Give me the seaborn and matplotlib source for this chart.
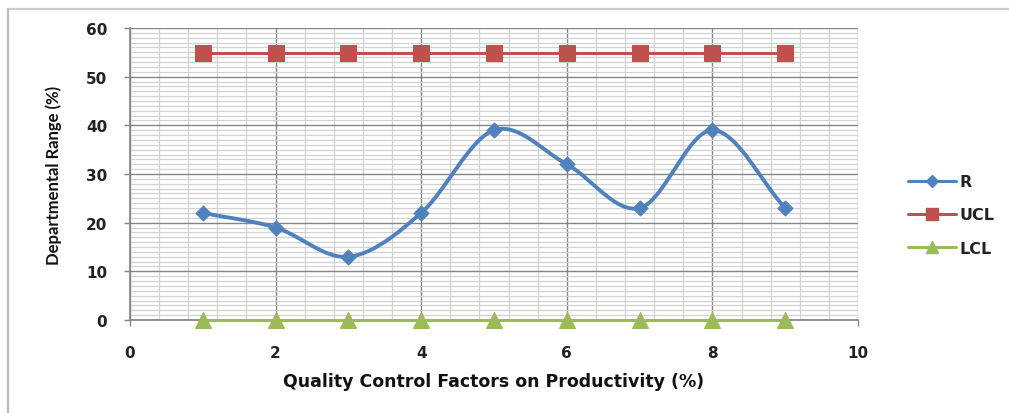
import numpy as np
import pandas as pd
import matplotlib
matplotlib.use("Agg")
import matplotlib.pyplot as plt
from matplotlib.lines import Line2D
from matplotlib.ticker import MultipleLocator
import seaborn as sns

# Data
factors = [1, 2, 3, 4, 5, 6, 7, 8, 9]
r_values = [22, 19, 13, 22, 39, 32, 23, 39, 23]
ucl_values = [54.8] * 9
lcl_values = [0] * 9

BLUE = "#4F81BD"
RED = "#C0504D"
GREEN = "#9BBB59"


def catmull_rom(x, y, n=40):
    """Smooth curve through the points (Catmull-Rom, as in spreadsheet smoothed lines)."""
    x = np.asarray(x, float)
    y = np.asarray(y, float)
    px = np.concatenate([[2 * x[0] - x[1]], x, [2 * x[-1] - x[-2]]])
    py = np.concatenate([[2 * y[0] - y[1]], y, [2 * y[-1] - y[-2]]])
    xs, ys = [], []
    t = np.linspace(0, 1, n, endpoint=False)
    for i in range(1, len(px) - 2):
        for arr, out in ((px, xs), (py, ys)):
            p0, p1, p2, p3 = arr[i - 1], arr[i], arr[i + 1], arr[i + 2]
            out.extend(0.5 * ((2 * p1) + (-p0 + p2) * t
                              + (2 * p0 - 5 * p1 + 4 * p2 - p3) * t ** 2
                              + (-p0 + 3 * p1 - 3 * p2 + p3) * t ** 3))
    xs.append(x[-1])
    ys.append(y[-1])
    return np.array(xs), np.array(ys)


sns.set_theme(style="white")
plt.rcParams["font.family"] = ["DejaVu Sans"]

fig = plt.figure(figsize=(10.09, 4.14), dpi=100)
ax = fig.add_axes([130 / 1009, 93 / 414, 728 / 1009, 292 / 414])

# Chart-area frame (top and left edges)
fx, fy = 7.5 / 1009, 1 - 9.5 / 414
fig.add_artist(Line2D([fx, 1.0], [fy, fy], transform=fig.transFigure,
                      color="#cccccc", linewidth=1.6))
fig.add_artist(Line2D([fx, fx], [0.0, fy], transform=fig.transFigure,
                      color="#bdbdbd", linewidth=1.6))

sx, sy = catmull_rom(factors, r_values)
smooth = pd.DataFrame({"x": sx, "y": sy})
sns.lineplot(data=smooth, x="x", y="y", ax=ax, color=BLUE, linewidth=2.8,
             sort=False, estimator=None, zorder=4)
sns.scatterplot(x=factors, y=r_values, ax=ax, marker="D", s=60, color=BLUE,
                edgecolor=BLUE, zorder=5)

sns.lineplot(x=factors, y=ucl_values, ax=ax, color=RED, linewidth=2.2,
             marker="s", markersize=11, markeredgecolor=RED, zorder=4)
sns.lineplot(x=factors, y=lcl_values, ax=ax, color=GREEN, linewidth=2.2,
             marker="^", markersize=12, markeredgecolor=GREEN, zorder=4)
for ln in ax.lines:
    ln.set_clip_on(False)

ax.set_xlim(0, 10)
ax.set_ylim(0, 60)
ax.xaxis.set_major_locator(MultipleLocator(2))
ax.xaxis.set_minor_locator(MultipleLocator(0.4))
ax.yaxis.set_major_locator(MultipleLocator(10))
ax.yaxis.set_minor_locator(MultipleLocator(1))
ax.grid(which="major", color="#858585", linewidth=1.0)
ax.grid(which="minor", color="#d2d2d2", linewidth=0.9)
ax.set_axisbelow(True)

for side in ("top", "right"):
    ax.spines[side].set_visible(False)
ax.spines["left"].set_color("#858585")
ax.spines["bottom"].set_color("#858585")

ax.tick_params(axis="y", which="major", left=True, length=4, width=1,
               color="#858585", pad=12.5, labelsize=11, labelcolor="#222222")
ax.tick_params(axis="x", which="major", bottom=True, length=4, width=1,
               color="#858585", pad=14, labelsize=11, labelcolor="#222222")
ax.tick_params(which="minor", length=0)
for lab in ax.get_xticklabels() + ax.get_yticklabels():
    lab.set_fontweight("bold")

ax.set_xlabel("Quality Control Factors on Productivity (%)", fontsize=12.5,
              fontweight="bold", labelpad=9, color="#111111")
ax.set_ylabel("Departmental Range (%)", fontsize=12, fontweight="bold",
              labelpad=17, color="#111111", family=["Lato", "DejaVu Sans"])

handles = [
    Line2D([], [], color=BLUE, linewidth=2.2, marker="D", markersize=6),
    Line2D([], [], color=RED, linewidth=2.2, marker="s", markersize=9),
    Line2D([], [], color=GREEN, linewidth=2.2, marker="^", markersize=9),
]
leg = fig.legend(handles, ["R", "UCL", "LCL"], loc="center left",
                 bbox_to_anchor=(894 / 1009, 1 - 216 / 414), frameon=False,
                 handlelength=3.0, handletextpad=0.2, labelspacing=1.15,
                 prop={"weight": "bold", "size": 11.5})
for t in leg.get_texts():
    t.set_color("#222222")

fig.savefig("out.png", dpi=100)
